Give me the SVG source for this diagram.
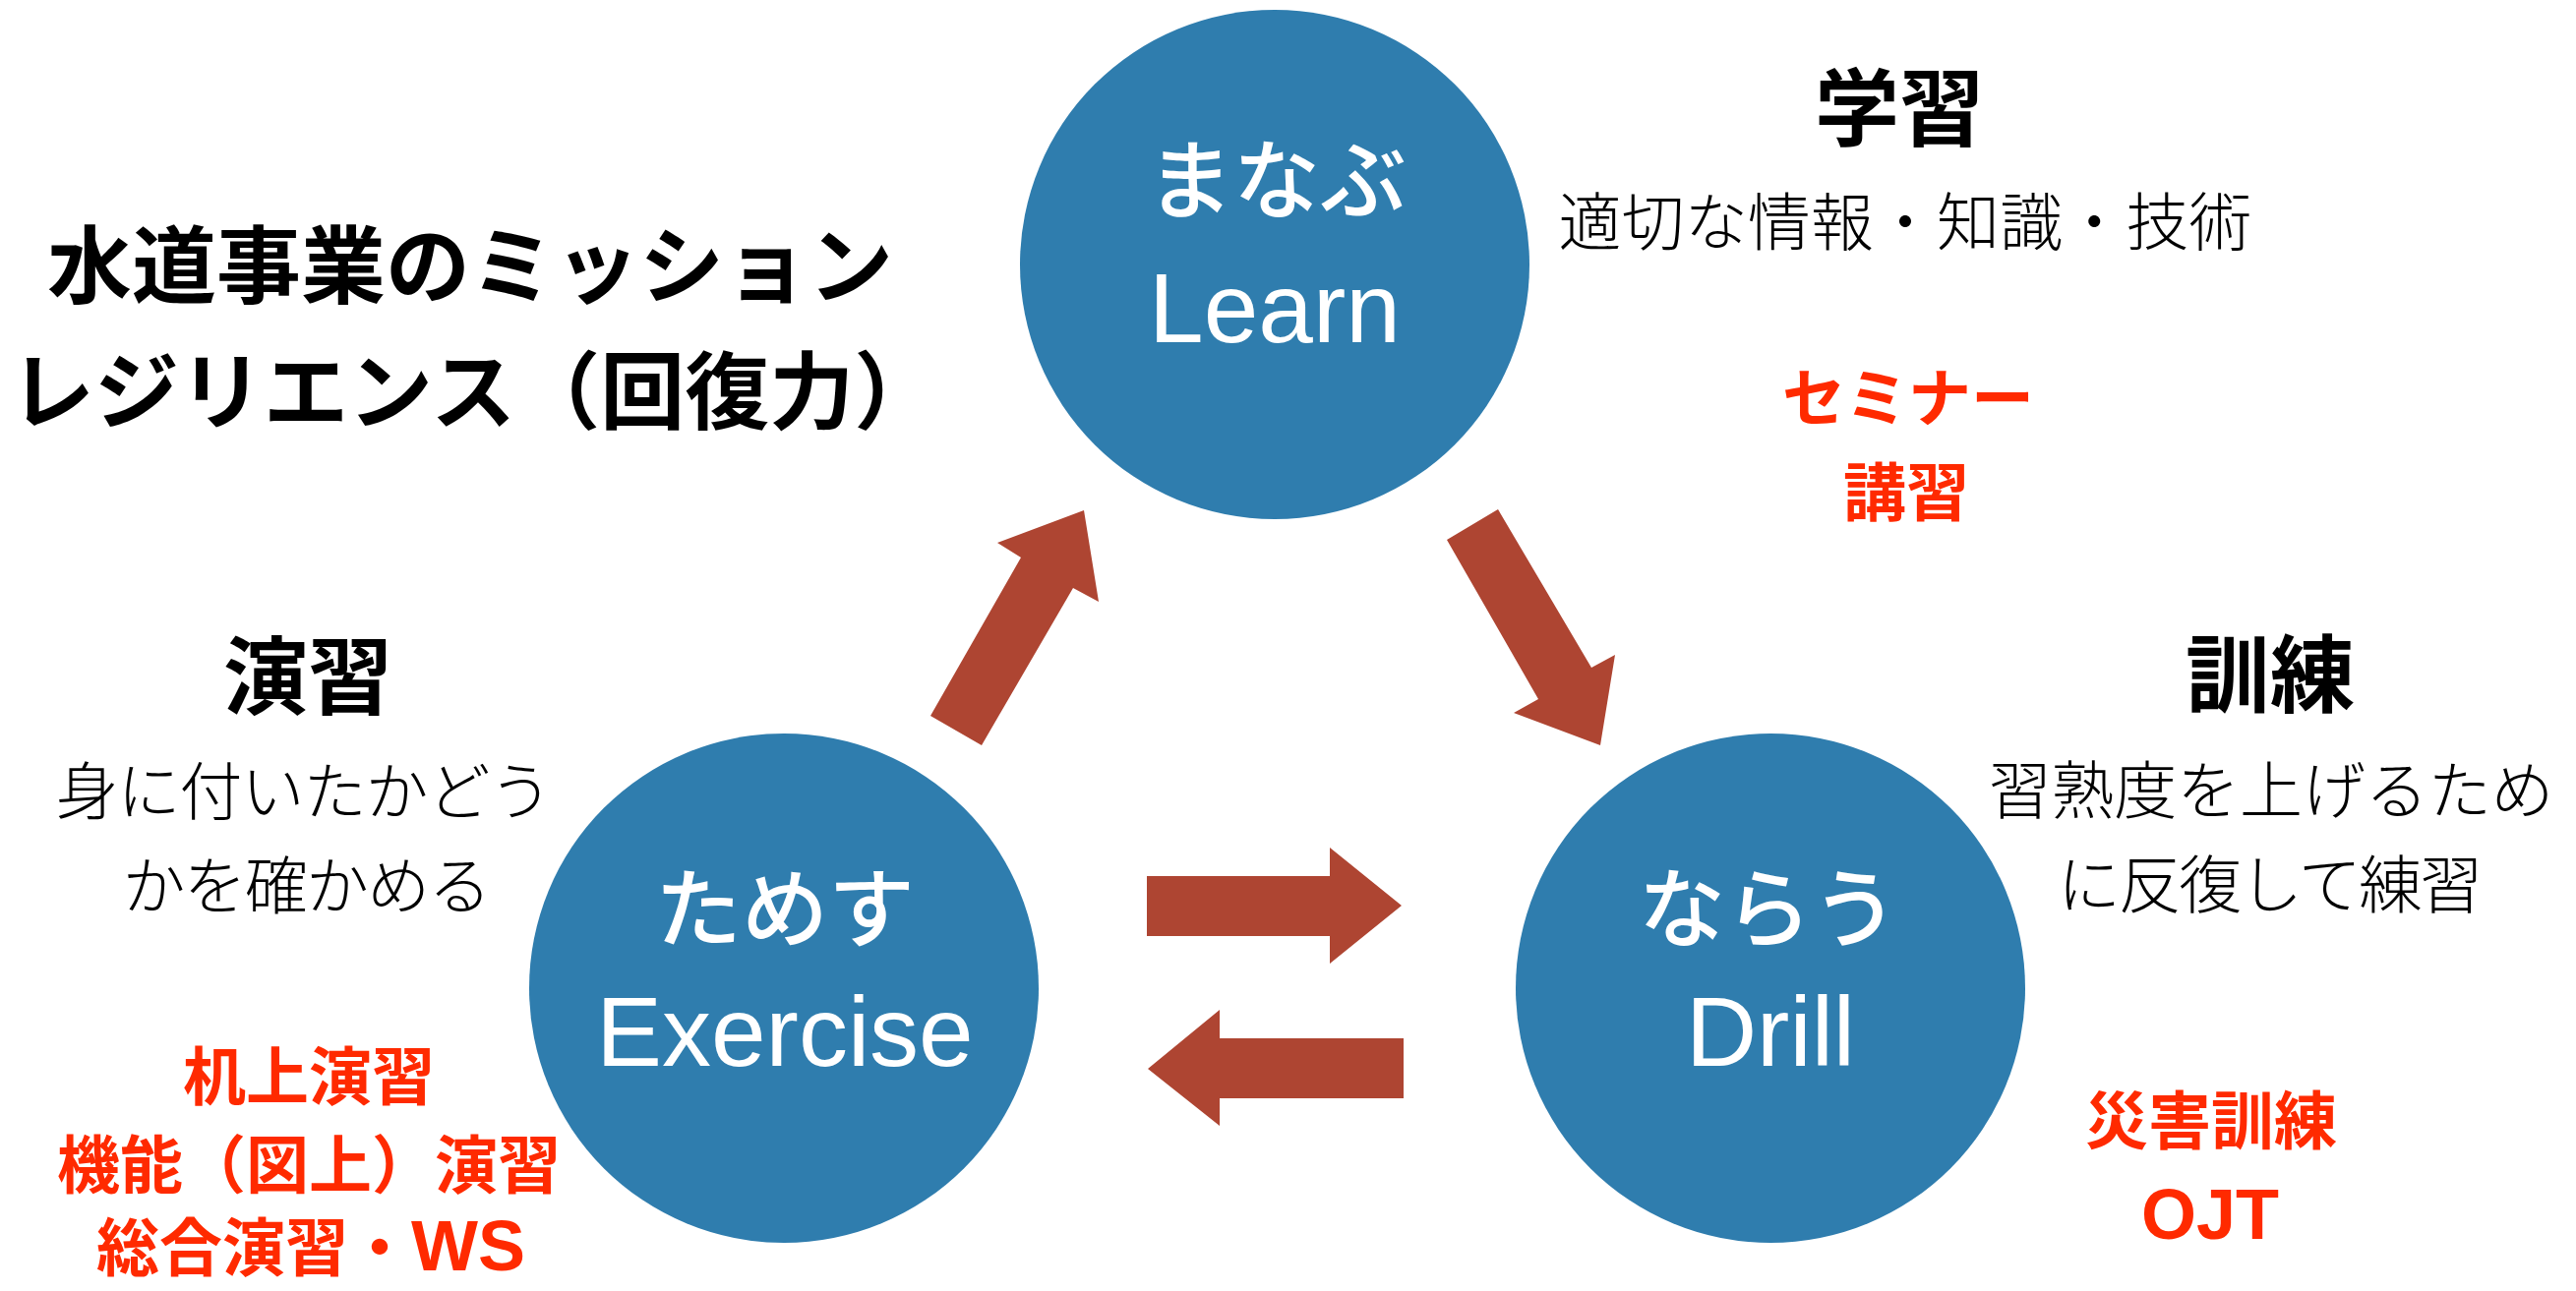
<svg xmlns="http://www.w3.org/2000/svg" width="2619" height="1313" viewBox="0 0 2619 1313">
<style>
.bg{fill:#ffffff}
.node{fill:#2f7dae}
.arrow{fill:#ae4532}
.jl{font-family:"Noto Sans CJK JP","Noto Sans",sans-serif;font-size:88px;font-weight:500;fill:#ffffff;text-anchor:middle}
.en{font-family:"Liberation Sans",Arial,sans-serif;font-size:100px;fill:#ffffff;text-anchor:middle}
.title{font-family:"Noto Sans CJK JP",sans-serif;font-size:86px;font-weight:bold;fill:#000000}
.head{font-family:"Noto Sans CJK JP",sans-serif;font-size:86px;font-weight:bold;fill:#000000;text-anchor:middle}
.desc{font-family:"Noto Sans CJK JP",sans-serif;font-size:64px;font-weight:300;fill:#000000;text-anchor:middle}
.red{font-family:"Noto Sans CJK JP",sans-serif;font-size:64px;font-weight:bold;fill:#ff2a00;text-anchor:middle}
.redl{font-family:"Liberation Sans","Noto Sans CJK JP",sans-serif;font-size:72px;font-weight:bold;fill:#ff2a00;text-anchor:middle}
</style>
<rect class="bg" x="0" y="0" width="2619" height="1313"/>

<g id="title">
<text class="title" x="48" y="302">水道事業のミッション</text>
<text class="title" x="10" y="430">レジリエンス（回復力）</text>
</g>

<g id="connectors">
<polygon class="arrow" points="946,728 1038,567 1014,552 1102,519 1117,612 1091,598 998,758"/>
<polygon class="arrow" points="1471,549 1523,518 1618,679 1642,666 1627,758 1539,725 1564,711"/>
<polygon class="arrow" points="1166,891 1352,891 1352,862 1425,921 1352,980 1352,952 1166,952"/>
<polygon class="arrow" points="1427,1056 1240,1056 1240,1027 1167,1087 1240,1145 1240,1117 1427,1117"/>
</g>

<g id="node-learn">
<circle class="node" cx="1296" cy="269" r="259"/>
<text class="jl" x="1298" y="215">まなぶ</text>
<text class="en" x="1296" y="348">Learn</text>
</g>

<g id="node-exercise">
<circle class="node" cx="797" cy="1005" r="259"/>
<text class="jl" x="798" y="956">ためす</text>
<text class="en" x="798" y="1084">Exercise</text>
</g>

<g id="node-drill">
<circle class="node" cx="1800" cy="1005" r="259"/>
<text class="jl" x="1798" y="956">ならう</text>
<text class="en" x="1800" y="1084">Drill</text>
</g>

<g id="label-learn">
<text class="head" x="1931" y="142">学習</text>
<text class="desc" x="1937" y="249" textLength="705" lengthAdjust="spacing">適切な情報・知識・技術</text>
<text class="red" x="1940" y="428">セミナー</text>
<text class="red" x="1938" y="524">講習</text>
</g>

<g id="label-exercise">
<text class="head" x="313" y="720">演習</text>
<text class="desc" x="309" y="828" textLength="505" lengthAdjust="spacing">身に付いたかどう</text>
<text class="desc" x="312" y="924" textLength="375" lengthAdjust="spacing">かを確かめる</text>
<text class="red" x="314" y="1118">机上演習</text>
<text class="red" x="314" y="1208">機能（図上）演習</text>
<text class="red" x="316" y="1292">総合演習・<tspan font-family="Liberation Sans, sans-serif" font-size="72px">WS</tspan></text>
</g>

<g id="label-drill">
<text class="head" x="2308" y="718">訓練</text>
<text class="desc" x="2309" y="827" textLength="575" lengthAdjust="spacing">習熟度を上げるため</text>
<text class="desc" x="2308" y="923" textLength="432" lengthAdjust="spacing">に反復して練習</text>
<text class="red" x="2248" y="1163">災害訓練</text>
<text class="redl" x="2247" y="1260">OJT</text>
</g>
</svg>
